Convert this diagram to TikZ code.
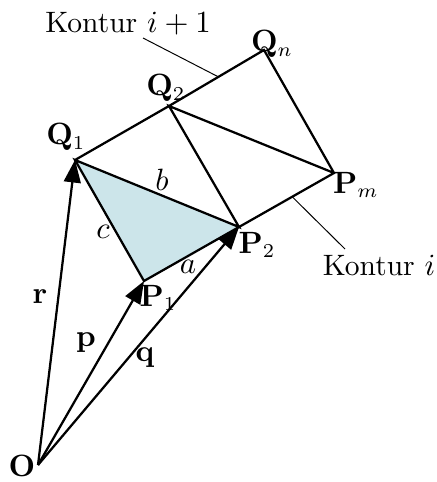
\documentclass[tikz,border=0pt]{standalone}
\usepackage{amsmath,amssymb}
\usepackage{tikz}
\usetikzlibrary{arrows.meta,calc}
\usepackage{xcolor}
\definecolor{facecol}{RGB}{204,229,234}
\tikzset{vec/.style={thick,-{Triangle[length=8pt,width=6pt]}},
  lead/.style={line width=0.35pt}}

\begin{document}
\begin{tikzpicture}[x=0.0125cm,y=-0.0125cm,font=\fontsize{10.5}{12}\selectfont]
\useasboundingbox (0,0) rectangle (436,482);
\coordinate (O) at (38,465);
\coordinate (P1) at (144,281);
\coordinate (P2) at (239,227);
\coordinate (Pm) at (334,173);
\coordinate (Q1) at (75,160);
\coordinate (Q2) at (169,106);
\coordinate (Qn) at (264,50);
\coordinate (kt) at ($(Q2)!0.52!(Qn)$);
\coordinate (kb) at ($(P2)!0.56!(Pm)$);
\coordinate (kt0) at (143,38);
\coordinate (kb0) at (345,249);
\fill[facecol] (Q1)--(P1)--(P2)--cycle;
\draw[style=thick] (Q1)--(Q2)--(Qn)--(Pm)--(P2)--(P1)--(Q1)--(P2)--(Q2)--(Pm);
\draw[vec] (O)--(Q1);
\draw[vec] (O)--(P1);
\draw[vec] (O)--(P2);
\node (kontur1) at (128,24){Kontur $i+1$};
\node (kontur) at (379,266){Kontur $i$};
\draw[lead] (kt0)--(kt);
\draw[lead] (kb)--(kb0);
\node (lQn) at (272,44){$\mathbf{Q}_n$};
\node (lQ2) at (166,88){$\mathbf{Q}_2$};
\node (lQ1) at (66,137){$\mathbf{Q}_1$};
\node (lPm) at (356,185){$\mathbf{P}_m$};
\node (lP2) at (257,245){$\mathbf{P}_2$};
\node (lP1) at (158,298){$\mathbf{P}_1$};
\node (lb) at (162,180){$b$};
\node (lc) at (103,232){$c$};
\node (la) at (188,267){$a$};
\node (lr) at (40,297){$\mathbf{r}$};
\node (lp) at (86,343){$\mathbf{p}$};
\node (lq) at (145,358){$\mathbf{q}$};
\node (lO) at (22,466){$\mathbf{O}$};
\end{tikzpicture}
\end{document}
